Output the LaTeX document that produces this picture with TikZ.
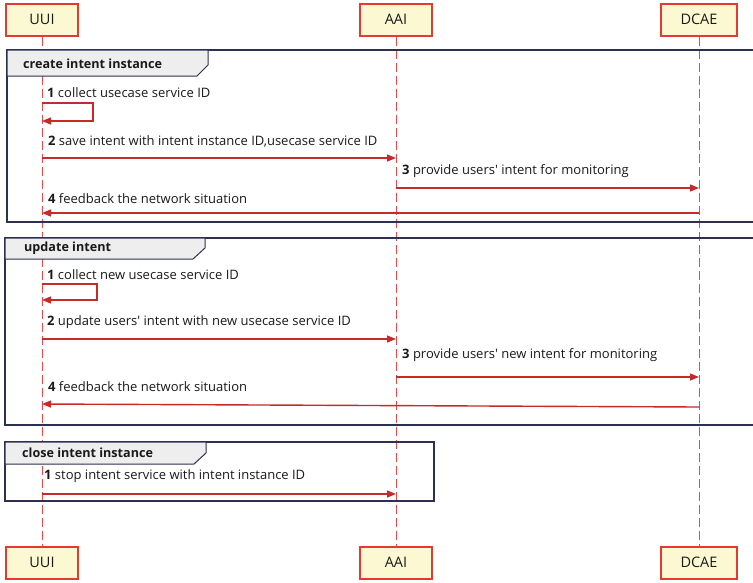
\documentclass[tikz,border=0pt]{standalone}
\usepackage{fontspec}
\setmainfont{Open Sans}
\usetikzlibrary{arrows.meta}
\definecolor{actfill}{HTML}{FBF8D2}
\definecolor{actline}{HTML}{E53A2F}
\definecolor{lifered}{HTML}{E84A4A}
\definecolor{msgred}{HTML}{C62B2B}
\definecolor{framecol}{HTML}{2E3050}
\definecolor{tabfill}{HTML}{EEEEEE}
\definecolor{txt}{HTML}{1A1A1A}
\begin{document}
\begin{tikzpicture}[x=1pt,y=-1pt,
  actor/.style={draw=actline, fill=actfill, line width=2pt, minimum width=72pt,
    minimum height=32pt, inner sep=0pt, text=txt, font=\fontsize{14.5}{17}\selectfont},
  life/.style={draw=lifered, line width=1pt, dash pattern=on 9pt off 4pt},
  msg/.style={draw=msgred, line width=1.4pt, -{Triangle[length=9pt,width=7pt]}},
  msglabel/.style={anchor=west, inner sep=0pt, text=txt, font=\fontsize{13}{15}\selectfont},
  framebox/.style={draw=framecol, line width=1.6pt},
  tab/.style={draw=framecol, fill=tabfill, line width=1pt},
  tablabel/.style={anchor=west, inner sep=0pt, text=txt, font=\bfseries\fontsize{12.6}{15}\selectfont}]
\useasboundingbox (0,0) rectangle (753,582);
\clip (0,0) rectangle (753,582);
\fill[white] (0,0) rectangle (753,582);

% participants, top and bottom
\node[actor] (uuiT) at (42,19.5) {UUI};
\node[actor] (aaiT) at (396,19.5) {AAI};
\node[actor, minimum width=76pt] (dcaeT) at (699,19.5) {DCAE};
\node[actor] (uuiB) at (42,562.5) {UUI};
\node[actor] (aaiB) at (396,562.5) {AAI};
\node[actor, minimum width=76pt] (dcaeB) at (699,562.5) {DCAE};

% lifelines
\draw[life] (uuiT.south) -- (uuiB.north);
\draw[life] (aaiT.south) -- (aaiB.north);
\draw[life] (dcaeT.south) -- (dcaeB.north);

% frame: create intent instance
\draw[framebox] (7,50) rectangle (770,222);
\draw[tab] (7,50) -- (208,50) -- (208,65) -- (197,76) -- (7,76) -- cycle;
\node[tablabel] (f1) at (23,63.5) {create intent instance};

% frame: update intent
\draw[framebox] (5,238) rectangle (770,425);
\draw[tab] (5,238) -- (205,238) -- (205,248) -- (193,259) -- (5,259) -- cycle;
\node[tablabel] (f2) at (24,248) {update intent};

% frame: close intent instance
\draw[framebox] (5,442) rectangle (434,501);
\draw[tab] (5,442) -- (206,442) -- (206,453) -- (194,464) -- (5,464) -- cycle;
\node[tablabel] (f3) at (22,453) {close intent instance};

% create intent instance messages
\node[msglabel] (c1) at (47,93) {\textbf{1} collect usecase service ID};
\draw[msg] (uuiT |- 0,103) -- (93,103) -- (93,121) -- (uuiT |- 0,121);
\node[msglabel] (c2) at (48,141) {\textbf{2} save intent with intent instance ID,usecase service ID};
\draw[msg] (uuiT |- 0,158) -- (aaiT |- 0,158);
\node[msglabel] (c3) at (402,171) {\textbf{3} provide users\textquotesingle{} intent for monitoring};
\draw[msg] (aaiT |- 0,188) -- (dcaeT |- 0,188);
\node[msglabel] (c4) at (48,199) {\textbf{4} feedback the network situation};
\draw[msg] (dcaeT |- 0,213) -- (uuiT |- 0,213);

% update intent messages
\node[msglabel] (u1) at (47,275) {\textbf{1} collect new usecase service ID};
\draw[msg] (uuiT |- 0,284) -- (97,284) -- (97,300) -- (uuiT |- 0,300);
\node[msglabel] (u2) at (47,322) {\textbf{2} update users\textquotesingle{} intent with new usecase service ID};
\draw[msg] (uuiT |- 0,339) -- (aaiT |- 0,339);
\node[msglabel] (u3) at (402,355) {\textbf{3} provide users\textquotesingle{} new intent for monitoring};
\draw[msg] (aaiT |- 0,377) -- (dcaeT |- 0,377);
\node[msglabel] (u4) at (48,387) {\textbf{4} feedback the network situation};
\draw[msg] (dcaeT |- 0,407) -- (uuiT |- 0,404);

% close intent instance message
\node[msglabel] (k1) at (44,476) {\textbf{1} stop intent service with intent instance ID};
\draw[msg] (uuiT |- 0,494) -- (aaiT |- 0,494);
\end{tikzpicture}
\end{document}
